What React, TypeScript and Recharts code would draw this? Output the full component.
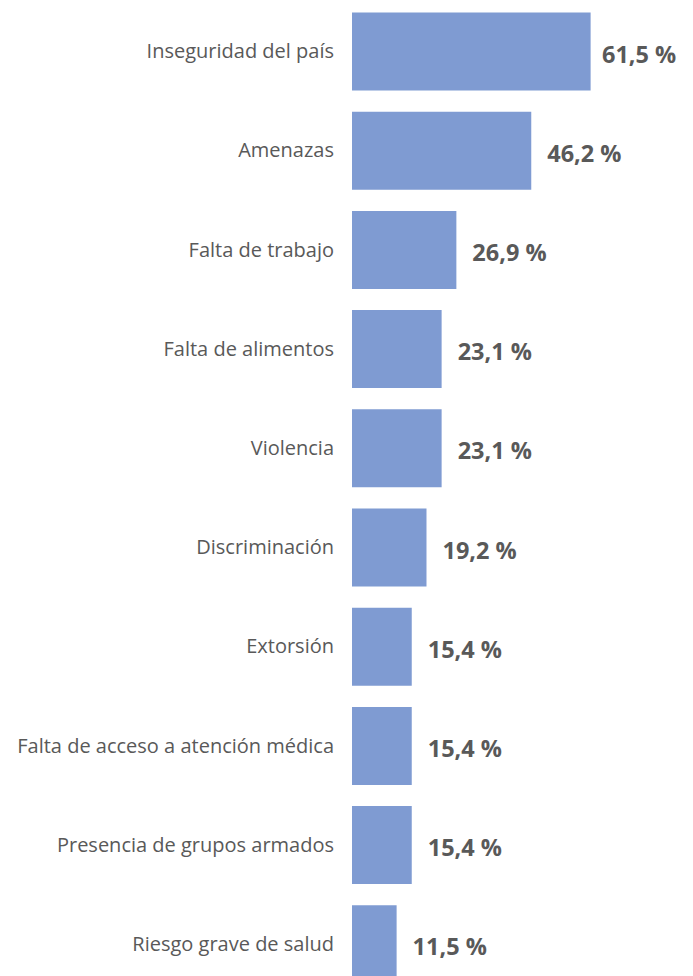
import * as React from "react";
import { BarChart, Bar, XAxis, YAxis, LabelList } from "recharts";

const categories = [
  "Inseguridad del país",
  "Amenazas",
  "Falta de trabajo",
  "Falta de alimentos",
  "Violencia",
  "Discriminación",
  "Extorsión",
  "Falta de acceso a atención médica",
  "Presencia de grupos armados",
  "Riesgo grave de salud"
];
const values = [61.5, 46.2, 26.9, 23.1, 23.1, 19.2, 15.4, 15.4, 15.4, 11.5];

const data = categories.map((name, i) => ({ name, value: values[i] }));

const fmt = (v: any) => `${Number(v).toFixed(1).replace(".", ",")} %`;

// value label to the right of the bar, pulled back if it would run off the edge
const ValueLabel = (props: any) => {
  const { x, y, width, height, value } = props;
  const labelW = 74;
  let start = x + width + 16;
  if (start + labelW > 676) start = 676 - labelW;
  return (
    <text
      x={start}
      y={y + height / 2 + 2}
      dominantBaseline="central"
      fill="#595959"
      fontSize={23.5}
      fontWeight="bold"
      fontFamily="'Open Sans', sans-serif"
    >
      {fmt(value)}
    </text>
  );
};

export default function App() {
  return (
    <div style={{ position: "absolute", left: 0, top: 0, fontFamily: "'Open Sans', sans-serif" }}>
      <BarChart
        layout="vertical"
        data={data}
        width={693}
        height={1000}
        margin={{ top: 1.5, right: 30.6, bottom: 6.5, left: 0 }}
      >
        <XAxis type="number" domain={[0, 80]} hide />
        <YAxis
          type="category"
          dataKey="name"
          width={352}
          tickLine={false}
          axisLine={false}
          tickMargin={12}
          interval={0}
          tick={{ fill: "#595959", fontSize: 20, fontFamily: "'Open Sans', sans-serif" }}
        />
        <Bar dataKey="value" fill="#7F9BD2" barSize={78} isAnimationActive={false}>
          <LabelList dataKey="value" content={ValueLabel} />
        </Bar>
      </BarChart>
    </div>
  );
}
